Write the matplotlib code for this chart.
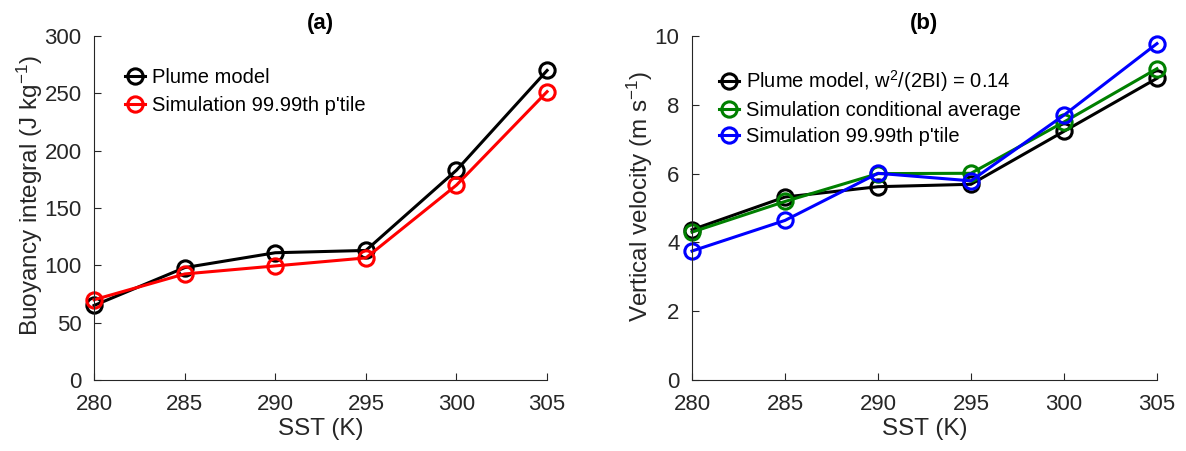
import matplotlib
matplotlib.use("Agg")
import matplotlib.pyplot as plt

plt.rcParams['font.family'] = ['Liberation Sans', 'DejaVu Sans']
plt.rcParams['mathtext.fontset'] = 'custom'
plt.rcParams['mathtext.rm'] = 'Liberation Sans'
plt.rcParams['mathtext.it'] = 'Liberation Sans'

sst = [280, 285, 290, 295, 300, 305]

# Panel (a): buoyancy integral (J/kg)
bi_plume = [65, 98, 111, 113, 183, 270]
bi_sim = [70, 92.5, 99.5, 106.5, 170, 251.5]

# Panel (b): vertical velocity (m/s)
w_plume = [4.37, 5.32, 5.62, 5.69, 7.23, 8.77]
w_cond = [4.30, 5.19, 6.00, 6.01, 7.50, 9.05]
w_p9999 = [3.75, 4.64, 6.01, 5.79, 7.70, 9.78]

labels_a = ['Plume model', "Simulation 99.99th p'tile"]
labels_b = [r'Plume model, w$^2$/(2BI) = 0.14', 'Simulation conditional average',
            "Simulation 99.99th p'tile"]

TXT = '#262626'
TICK_FS = 16
LAB_FS = 17.5
LEG_FS = 14.5

fig = plt.figure(figsize=(11.86, 4.51), dpi=100)
axa = fig.add_axes([0.0793, 0.1574, 0.382, 0.7627])
axb = fig.add_axes([0.5835, 0.1574, 0.392, 0.7627])

style = dict(marker='o', markersize=11, markerfacecolor='none', markeredgewidth=2.2,
             linewidth=2.2)

axa.plot(sst, bi_plume, color='black', label=labels_a[0], **style)
axa.plot(sst, bi_sim, color='red', label=labels_a[1], **style)
axa.set_ylim(0, 300)
axa.set_yticks([0, 50, 100, 150, 200, 250, 300])
axa.set_ylabel(r'Buoyancy integral (J kg$^{-1}$)', fontsize=LAB_FS, color=TXT, labelpad=-0.5)
axa.set_title('(a)', fontsize=16, fontweight='bold', color='black', pad=5)

axb.plot(sst, w_plume, color='black', label=labels_b[0], **style)
axb.plot(sst, w_cond, color='#008000', label=labels_b[1], **style)
axb.plot(sst, w_p9999, color='blue', label=labels_b[2], **style)
axb.set_ylim(0, 10)
axb.set_yticks([0, 2, 4, 6, 8, 10])
axb.set_ylabel(r'Vertical velocity (m s$^{-1}$)', fontsize=LAB_FS, color=TXT, labelpad=-0.5)
axb.set_title('(b)', fontsize=16, fontweight='bold', color='black', pad=5)

for ax in (axa, axb):
    ax.set_xlim(280, 305)
    ax.set_xticks(sst)
    ax.set_xlabel('SST (K)', fontsize=LAB_FS, color=TXT, labelpad=2)
    ax.yaxis.label.set_y(0.535)
    ax.spines['top'].set_visible(False)
    ax.spines['right'].set_visible(False)
    for s in ('left', 'bottom'):
        ax.spines[s].set_color(TXT)
        ax.spines[s].set_linewidth(0.8)
    ax.tick_params(direction='in', length=5, width=0.8, colors=TXT, labelsize=TICK_FS)
    ax.tick_params(axis='x', pad=10)
    ax.tick_params(axis='y', pad=9)
    for ln in ax.lines:
        ln.set_clip_on(False)

axa.legend(loc='upper left', bbox_to_anchor=(0.05, 0.93), frameon=False, fontsize=LEG_FS,
           handlelength=1.0, handletextpad=0.35, borderaxespad=0, labelspacing=0.45)
axb.legend(loc='upper left', bbox_to_anchor=(0.04, 0.93), frameon=False, fontsize=LEG_FS,
           handlelength=1.0, handletextpad=0.35, borderaxespad=0, labelspacing=0.35)

fig.savefig('out.png', dpi=100)
